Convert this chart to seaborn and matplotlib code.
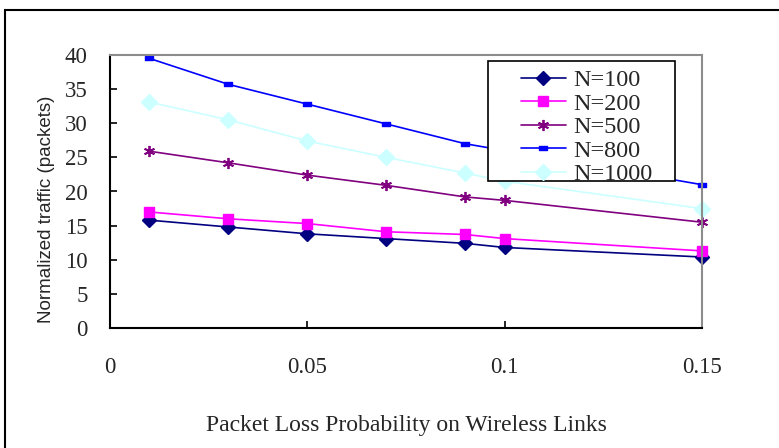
import matplotlib
matplotlib.use("Agg")
import matplotlib.pyplot as plt
import seaborn as sns
import pandas as pd
from matplotlib.path import Path
from matplotlib.patches import Rectangle

# Veriler
loss_prob = [0.01, 0.03, 0.05, 0.07, 0.09, 0.10, 0.15]
n100 = [15.8, 14.8, 13.8, 13.1, 12.4, 11.8, 10.4]
n200 = [17.0, 16.0, 15.3, 14.1, 13.7, 13.1, 11.3]
n500 = [25.9, 24.2, 22.4, 20.9, 19.2, 18.7, 15.5]
n800 = [39.5, 35.7, 32.8, 29.9, 27.0, 26.0, 21.0]
n1000 = [33.1, 30.5, 27.4, 25.0, 22.7, 21.5, 17.5]

series_names = ["N=100", "N=200", "N=500", "N=800", "N=1000"]
series_values = [n100, n200, n500, n800, n1000]
x_ticks = [0, 0.05, 0.1, 0.15]
x_tick_labels = ["0", "0.05", "0.1", "0.15"]
y_ticks = [0, 5, 10, 15, 20, 25, 30, 35, 40]

sns.set_theme(style="white")
plt.rcParams['font.family'] = ['Liberation Serif', 'DejaVu Serif']

# küçük yatay dikdörtgen işaretçi (N=800)
dash_marker = Path([(-1, -0.55), (1, -0.55), (1, 0.55), (-1, 0.55), (-1, -0.55)],
                   [Path.MOVETO, Path.LINETO, Path.LINETO, Path.LINETO, Path.CLOSEPOLY])

styles = {
    "N=100": dict(color="#000080", marker="D", markersize=7),
    "N=200": dict(color="#FF00FF", marker="s", markersize=7),
    "N=500": dict(color="#800080", marker=(6, 2, 0), markersize=8, markeredgewidth=1.3),
    "N=800": dict(color="#0000FF", marker=dash_marker, markersize=5.5),
    "N=1000": dict(color="#CCFFFF", marker="D", markersize=8),
}

rows = []
for name, vals in zip(series_names, series_values):
    for x, y in zip(loss_prob, vals):
        rows.append({"p": x, "traffic": y, "series": name})
df = pd.DataFrame(rows)

fig = plt.figure(figsize=(7.79, 4.48), dpi=100)
ax = fig.add_axes([110 / 779, 1 - 328 / 448, 592 / 779, 273 / 448])

for name in series_names:
    sub = df[df["series"] == name]
    st = styles[name]
    sns.lineplot(data=sub, x="p", y="traffic", ax=ax, label=name, color=st["color"],
                 marker=st["marker"], markersize=st["markersize"],
                 markeredgecolor=st["color"], markerfacecolor=st["color"],
                 markeredgewidth=st.get("markeredgewidth", 1.0),
                 linewidth=1.2, clip_on=False, errorbar=None)

ax.set_xlim(0, 0.15)
ax.set_ylim(0, 40)
ax.set_xticks(x_ticks)
ax.set_xticklabels(x_tick_labels)
ax.set_yticks(y_ticks)
ax.tick_params(axis="both", direction="in", length=5, width=1.2, color="black",
               labelsize=16.5, left=True, bottom=True)
ax.tick_params(axis="x", pad=21)
ax.tick_params(axis="y", pad=16)

for side in ["left", "bottom"]:
    ax.spines[side].set_color("black")
    ax.spines[side].set_linewidth(1.5)
for side in ["top", "right"]:
    ax.spines[side].set_color("#8c8c8c")
    ax.spines[side].set_linewidth(1.5)

ax.set_xlabel("Packet Loss Probability on Wireless Links", fontsize=17)
ax.xaxis.set_label_coords(0.5, -0.32)
ax.set_ylabel("Normalized traffic (packets)", fontsize=13.5, family=['Liberation Sans', 'DejaVu Sans'])
ax.yaxis.set_label_coords(-0.093, 0.436)

# legend kutusu (Excel tarzı geniş sol boşluk)
ax.add_patch(Rectangle((0.6385, 0.538), 0.3155, 0.44, transform=ax.transAxes,
                       facecolor="white", edgecolor="black", linewidth=1.2,
                       zorder=4, clip_on=False))
leg = ax.legend(loc="upper left", bbox_to_anchor=(0.694, 0.948),
                fontsize=17.5, frameon=False, labelspacing=0.06, handlelength=1.85,
                handletextpad=0.3, borderpad=0, borderaxespad=0)
leg.set_zorder(5)

# dış çerçeve
fig.add_artist(Rectangle((5 / 779, -0.2), 1.2, 1.2 - 10 / 448, transform=fig.transFigure,
                         fill=False, edgecolor="black", linewidth=1.5, clip_on=False))

fig.savefig("out.png", dpi=100)
